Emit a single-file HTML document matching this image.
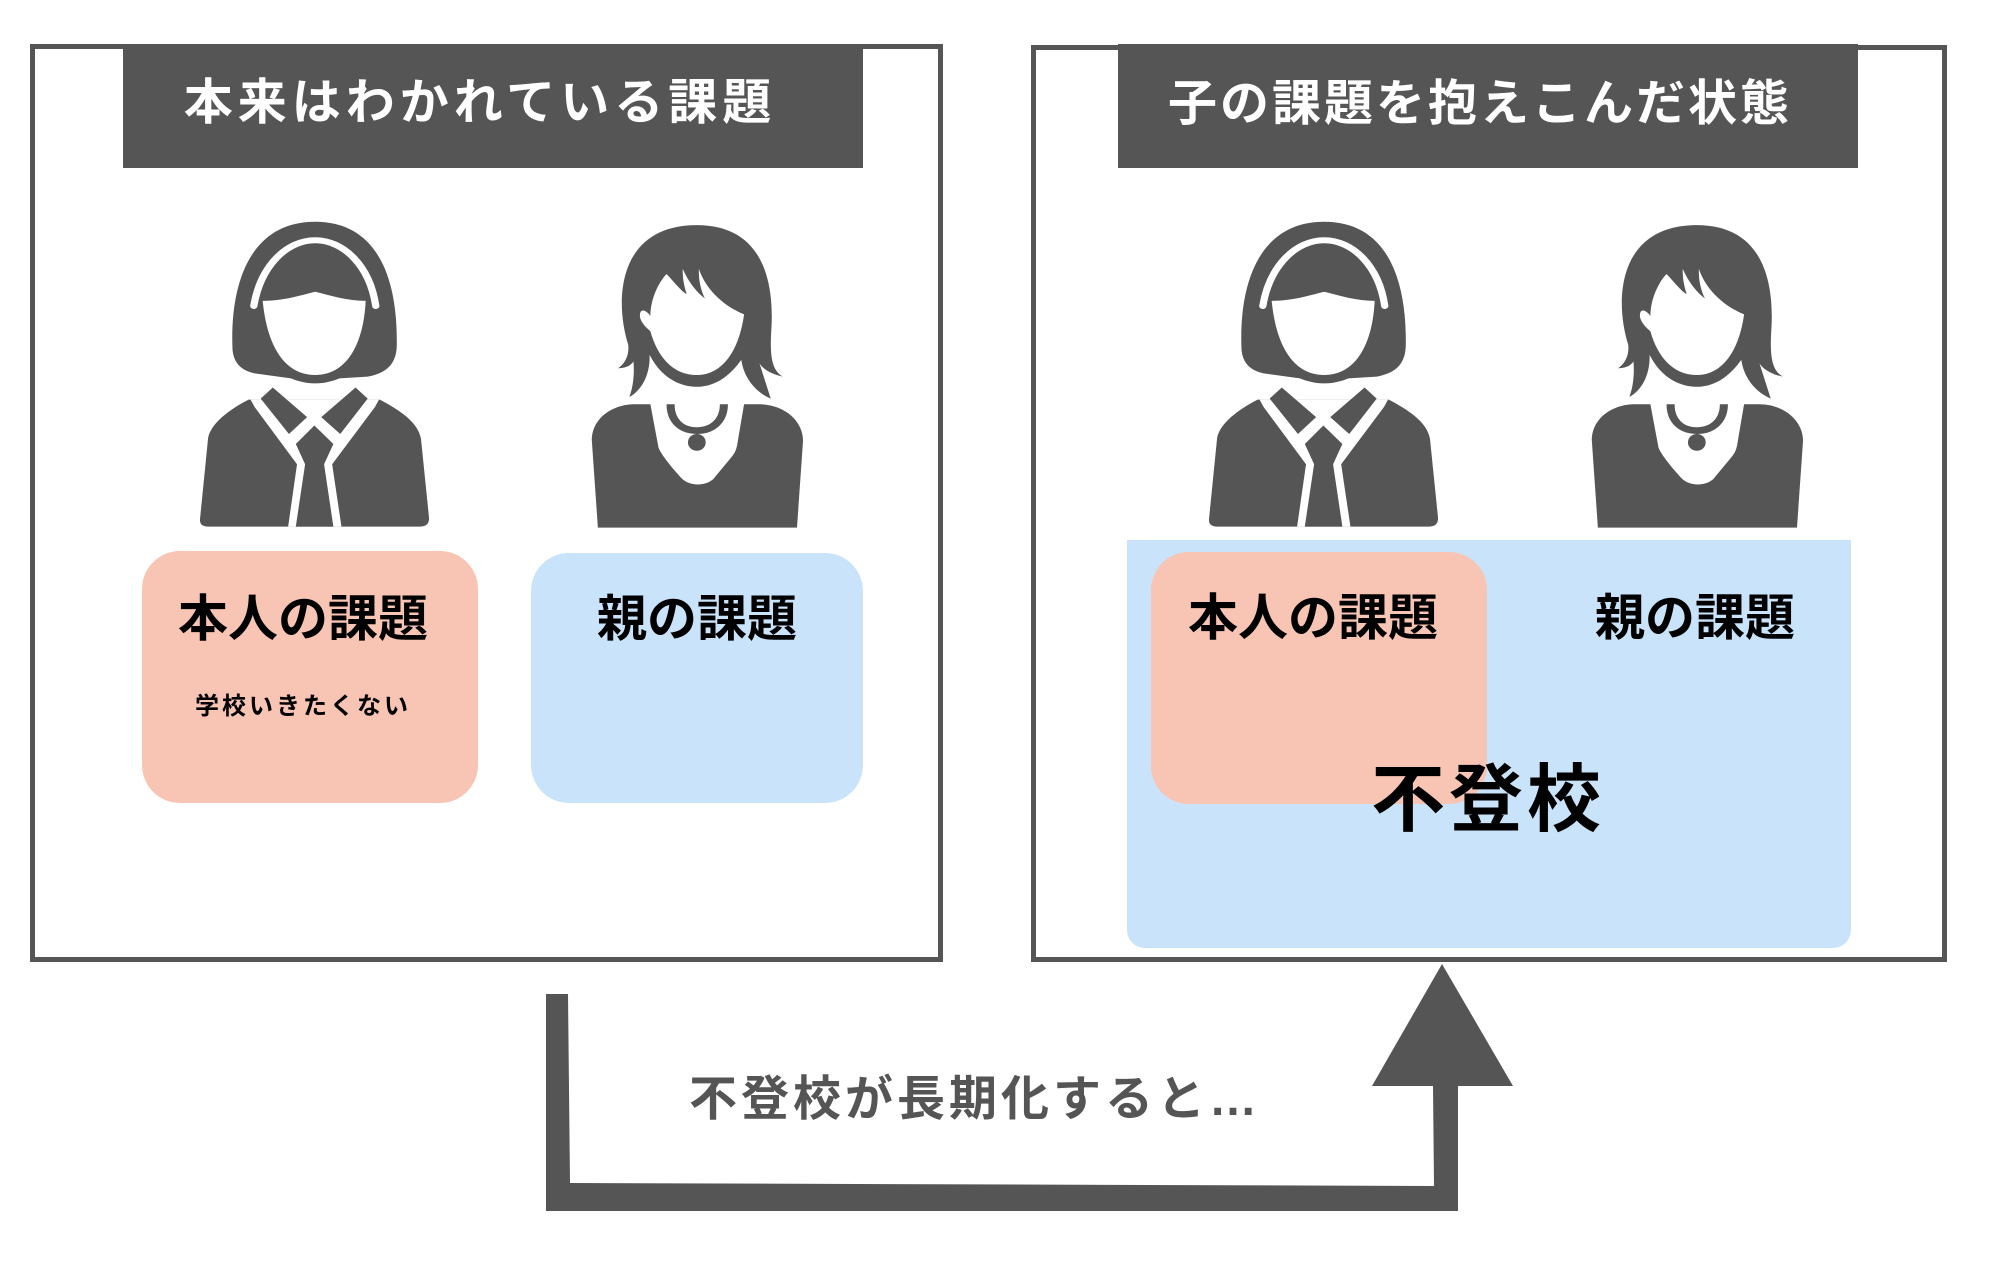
<!DOCTYPE html>
<html><head><meta charset="utf-8"><style>
body{margin:0;width:2000px;height:1266px;background:#fff;position:relative;overflow:hidden;font-family:"Liberation Sans","Noto Sans CJK JP",sans-serif}
.a{position:absolute}
.t{position:absolute;text-align:center;font-weight:bold;white-space:nowrap;line-height:1}
</style></head><body>
<div class="a" style="left:30px;top:44px;width:903px;height:908px;border:5px solid #555"></div>
<div class="a" style="left:1031px;top:45px;width:906px;height:907px;border:5px solid #555"></div>
<div class="a" style="left:123px;top:44px;width:740px;height:124px;background:#555"></div>
<div class="a" style="left:1118px;top:44px;width:740px;height:124px;background:#555"></div>
<div class="t" style="left:110px;width:740px;top:79px;font-size:49px;letter-spacing:5px;color:#fff">本来はわかれている課題</div>
<div class="t" style="left:1110px;width:740px;top:80px;font-size:49px;letter-spacing:3px;color:#fff">子の課題を抱えこんだ状態</div>

<div class="a" style="left:142px;top:551px;width:336px;height:252px;background:#f8c4b4;border-radius:38px"></div>
<div class="a" style="left:531px;top:553px;width:332px;height:250px;background:#c9e3fa;border-radius:38px"></div>
<div class="t" style="left:135px;width:336px;top:594px;font-size:50px">本人の課題</div>
<div class="t" style="left:135px;width:336px;top:695px;font-size:24px;letter-spacing:3px">学校いきたくない</div>
<div class="t" style="left:531px;width:332px;top:594px;font-size:50px">親の課題</div>

<div class="a" style="left:1127px;top:540px;width:724px;height:408px;background:#c9e3fa;border-radius:0 0 18px 18px"></div>
<div class="a" style="left:1151px;top:552px;width:336px;height:252px;background:#f8c4b4;border-radius:38px"></div>
<div class="t" style="left:1145px;width:336px;top:593px;font-size:50px">本人の課題</div>
<div class="t" style="left:1545px;width:300px;top:593px;font-size:50px">親の課題</div>
<div class="t" style="left:1288px;width:400px;top:763px;font-size:74px;letter-spacing:4px">不登校</div>

<div class="t" style="left:630px;width:690px;top:1076px;font-size:48px;letter-spacing:4px;color:#555">不登校が長期化すると…</div>

<svg class="a" style="left:0;top:0" width="2000" height="1266">
<polygon points="546,994 568,994 570,1183 1434,1186 1433,1086 1458,1086 1458,1211 546,1211" fill="#555"/>
<polygon points="1442,964 1372,1086 1513,1086" fill="#555"/>
</svg>

<svg width="0" height="0" style="position:absolute">
<defs>
<g id="girl">
<path d="M105,390 C100,200 150,20 310,20 C470,20 515,200 512,390 C510,450 480,470 440,480 L370,485 C330,505 290,505 250,485 L160,470 C120,460 105,430 105,390 Z" fill="#555"/>
<path d="M158,270 C175,150 240,75 310,75 C380,75 445,150 460,270" fill="none" stroke="#fff" stroke-width="18" stroke-linecap="round"/>
<path d="M180,255 C230,255 270,240 310,228 C350,240 390,255 435,255 C430,380 390,475 310,475 C230,475 190,380 180,255 Z" fill="#fff"/>
<path d="M45,660 C55,610 110,570 145,548 L470,548 C520,580 565,615 572,665 L592,900 Q592,925 570,925 L45,925 Q22,925 25,900 Z" fill="#555"/>
<polygon points="150,548 160,570 265,740 243,925 375,925 352,740 458,570 468,548" fill="#fff"/>
<polygon points="175,545 205,512 290,600 245,650" fill="#555"/>
<polygon points="440,545 410,512 325,600 372,650" fill="#555"/>
<polygon points="262,680 308,625 355,680 332,740 355,925 262,925 285,740" fill="#555"/>
</g>
<g id="woman">
<path d="M1085,385 C1050,250 1060,30 1255,30 C1420,30 1445,200 1440,330 C1435,420 1440,460 1468,480 C1430,470 1415,450 1410,440 L1438,545 C1390,520 1370,470 1365,430 C1330,490 1290,510 1255,510 C1210,510 1165,480 1138,415 C1140,470 1120,520 1088,540 C1100,500 1100,460 1098,435 C1090,450 1075,455 1060,455 C1080,440 1088,410 1085,385 Z" fill="#555"/>
<path d="M1140,345 C1125,330 1110,310 1115,290 C1120,275 1135,290 1140,300 C1140,250 1160,200 1180,175 C1200,200 1215,225 1230,235 C1220,200 1220,175 1220,160 C1235,200 1255,230 1275,248 C1260,210 1260,180 1260,160 C1280,230 1330,275 1372,295 C1360,400 1320,475 1255,475 C1190,475 1155,410 1140,345 Z" fill="#fff"/>
<path d="M995,670 C995,600 1050,562 1100,562 L1140,562 L1160,690 C1165,710 1200,760 1220,785 C1240,805 1275,805 1295,785 L1340,720 C1355,700 1355,680 1358,660 L1372,562 L1410,562 C1470,562 1518,610 1518,670 L1503,928 L1010,928 Z" fill="#555"/>
<path d="M1190,562 C1190,610 1215,640 1255,640 C1295,640 1322,610 1322,562" fill="none" stroke="#555" stroke-width="20"/>
<ellipse cx="1255" cy="675" rx="22" ry="25" fill="#555"/>
</g>
</defs></svg>
<svg class="a" style="left:190px;top:215px" width="630" height="320" viewBox="0 0 1560 950" preserveAspectRatio="none"><use href="#girl"/><use href="#woman"/></svg>
<svg class="a" style="left:1199px;top:215px" width="630" height="320" viewBox="0 0 1560 950" preserveAspectRatio="none"><use href="#girl"/></svg>
<svg class="a" style="left:1190px;top:215px" width="630" height="320" viewBox="0 0 1560 950" preserveAspectRatio="none"><use href="#woman"/></svg>
</body></html>
